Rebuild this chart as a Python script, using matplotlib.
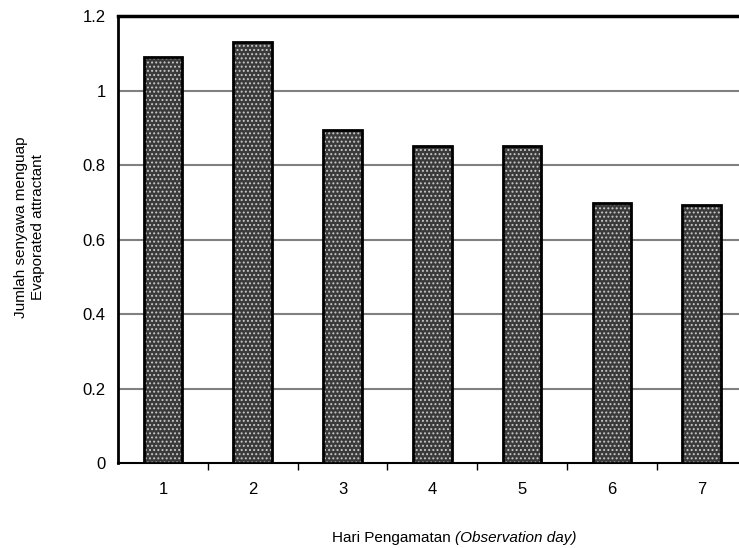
import numpy as np
import matplotlib.pyplot as plt

days = [1, 2, 3, 4, 5, 6, 7]
evaporated = [1.09, 1.13, 0.894, 0.851, 0.851, 0.698, 0.693]
yticks = [0, 0.2, 0.4, 0.6, 0.8, 1, 1.2]
ytick_labels = ['0', '0.2', '0.4', '0.6', '0.8', '1', '1.2']

plt.rcParams['font.family'] = ['Liberation Sans', 'DejaVu Sans']
plt.rcParams['font.size'] = 12
plt.rcParams['hatch.linewidth'] = 0.9

fig = plt.figure(figsize=(7.39, 5.48), dpi=100)
ax = fig.add_axes([0.1597, 0.1551, 0.8506, 0.8157])

x = np.array(days)
# textured fill
ax.bar(x, evaporated, width=0.43, color='#3a3a3a', edgecolor='#c8c8c8',
       hatch='....', linewidth=0, zorder=3)
# outline
ax.bar(x, evaporated, width=0.43, fill=False, edgecolor='black',
       linewidth=2, zorder=4)

ax.set_xlim(0.5, 7.5)
ax.set_ylim(0, 1.2)
ax.set_yticks(yticks)
ax.set_yticklabels(ytick_labels)
ax.set_xticks(days)
ax.set_xticklabels([str(d) for d in days])
ax.set_xticks(np.arange(1.5, 7.5, 1), minor=True)
ax.tick_params(axis='x', which='major', length=0, pad=14)
ax.tick_params(axis='x', which='minor', length=5, width=1, direction='out')
ax.tick_params(axis='y', length=0, pad=9)
for v in yticks[1:-1]:
    ax.axhline(v, color='#808080', linewidth=1.5, zorder=1)

ax.spines['left'].set_linewidth(2)
ax.spines['bottom'].set_linewidth(1.5)
ax.spines['top'].set_linewidth(2.5)
ax.spines['right'].set_visible(False)

fig.text(0.040, 0.585, 'Jumlah senyawa menguap\nEvaporated attractant',
         rotation=90, ha='center', va='center', fontsize=11, linespacing=1.3)
fig.text(0.616, 0.018, 'Hari Pengamatan ', ha='right', va='center', fontsize=11)
fig.text(0.616, 0.018, '(Observation day)', ha='left', va='center',
         fontsize=11, style='italic')

fig.savefig('out.png', dpi=100)
